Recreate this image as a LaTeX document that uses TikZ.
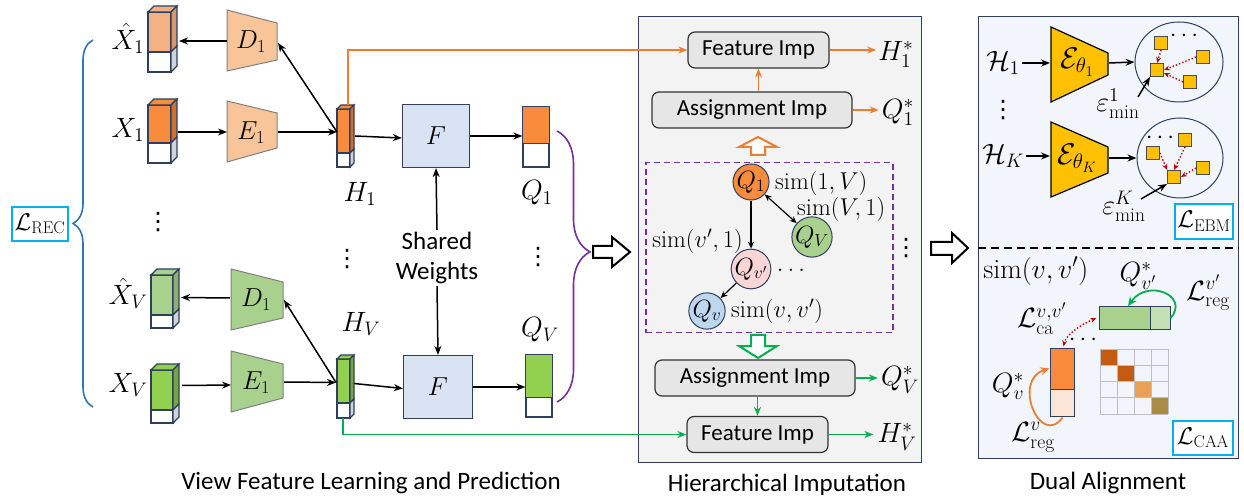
\RequirePackage{fix-cm}
\documentclass[tikz,border=0pt]{standalone}
\usepackage{amsmath}
\usepackage{graphicx}
\usepackage{fontspec}
\newfontfamily\carl{Carlito}
\newfontfamily\djv{DejaVu Sans}
\usetikzlibrary{arrows.meta,calc,decorations.pathreplacing,shapes.geometric}
\definecolor{navy}{HTML}{2F3F5F}
\definecolor{orgA}{HTML}{F98B3C}
\definecolor{orgAs}{HTML}{D2702A}
\definecolor{orgL}{HTML}{F4B183}
\definecolor{orgLs}{HTML}{D8976A}
\definecolor{orgT}{HTML}{F8C49A}
\definecolor{orgP}{HTML}{FBE5D6}
\definecolor{grnA}{HTML}{92D050}
\definecolor{grnAs}{HTML}{74A83C}
\definecolor{grnL}{HTML}{A9D18E}
\definecolor{grnLs}{HTML}{8CB070}
\definecolor{grnP}{HTML}{C5E0B4}
\definecolor{sideg}{HTML}{D0D4DA}
\definecolor{oline}{HTML}{ED7D31}
\definecolor{gline}{HTML}{00B050}
\definecolor{purp}{HTML}{7030A0}
\definecolor{cyanb}{HTML}{00B0F0}
\definecolor{braceb}{HTML}{2E75B6}
\definecolor{gold}{HTML}{FFC000}
\definecolor{fboxc}{HTML}{DAE3F3}
\definecolor{panelg}{HTML}{F3F3F3}
\definecolor{panelb}{HTML}{F2F6FC}
\definecolor{impc}{HTML}{E7E6E6}
\definecolor{redd}{HTML}{C00000}
\definecolor{pinkc}{HTML}{F9D5D5}
\definecolor{bluec}{HTML}{BDD7EE}
\definecolor{trapb}{HTML}{808080}
\definecolor{gridc}{HTML}{BFBFBF}
\definecolor{diagA}{HTML}{C55A11}
\definecolor{diagB}{HTML}{E9A255}
\definecolor{diagC}{HTML}{A98B4A}
\newcommand\msz{\fontsize{22}{26}\selectfont}
\newcommand\msm{\fontsize{21}{25}\selectfont}
\newcommand\mbig{\fontsize{26}{30}\selectfont}
\newcommand\mhuge{\fontsize{30}{34}\selectfont}
\newcommand\tsz{\fontsize{25}{30}\selectfont}
\newcommand\mycube[8]{%
 \node[inner sep=0pt,outer sep=0pt,minimum width=#3pt,minimum height=#4pt,anchor=north west] (#1) at #2 {};
 \path (#1.north west) coordinate (#1a) (#1.north east) coordinate (#1b)
       (#1.south east) coordinate (#1c) (#1.south west) coordinate (#1d);
 \path ($(#1a)+(0,#5)$) coordinate (#1m) ($(#1b)+(0,#5)$) coordinate (#1n);
 \filldraw[fill=#6,draw=navy,line width=1.2pt] (#1a) rectangle (#1n);
 \filldraw[fill=white,draw=navy,line width=1.2pt] (#1m) rectangle (#1c);
 \filldraw[fill=#6,draw=navy,line width=1.2pt] (#1a) -- ++(#8,-#8) -- ++(#3,0) -- (#1b) -- cycle;
 \filldraw[fill=#7,draw=navy,line width=1.2pt] (#1b) -- ++(#8,-#8) -- ++(0,#5) -- (#1n) -- cycle;
 \filldraw[fill=sideg,draw=navy,line width=1.2pt] (#1n) -- ++(#8,-#8) -- ++(0,#4-#5) -- (#1c) -- cycle;
}
\tikzset{
 arr/.style={-{Stealth[length=9pt,width=7pt]}, line width=1.5pt},
 sarr/.style={-{Stealth[length=7pt,width=6pt]}, line width=1.2pt},
 oarr/.style={arr, draw=oline, fill=oline},
 garr/.style={arr, draw=gline, fill=gline},
 rdot/.style={-{Stealth[length=6pt,width=5pt]}, line width=1.4pt, draw=redd, dotted},
 ml/.style={font=\msz, inner sep=0pt, scale=1.27},
 ms/.style={font=\msm, inner sep=0pt, scale=1.16},
 vd/.style={font=\djv\fontsize{24}{28}\selectfont, inner sep=0pt},
 tl/.style={font=\carl\tsz, inner sep=1pt},
 imp/.style={draw=black!80, fill=impc, rounded corners=7pt, line width=1.2pt, minimum height=36pt, inner sep=0pt, font=\carl\fontsize{23}{27}\selectfont},
 fbx/.style={draw=navy, fill=fboxc, line width=1.2pt, minimum width=67pt, minimum height=63pt, inner sep=0pt, font=\mbig},
 trap/.style={draw=trapb, line width=1pt},
 circ/.style={circle, draw=navy, line width=1pt, minimum size=34pt, inner sep=0pt, font=\fontsize{20}{24}\selectfont},
 lbox/.style={draw=cyanb, fill=white, line width=1.8pt, inner sep=0pt, font=\msz},
 sq/.style={draw=black!70, fill=gold, line width=1pt, minimum size=13pt, inner sep=0pt},
 bar/.style={draw=navy, line width=1.2pt, inner sep=0pt},
 hollow/.style={line width=2pt, fill=white},
}
\begin{document}
\begin{tikzpicture}[x=1pt,y=-1pt]
\useasboundingbox (0,0) rectangle (1244,502);

% ---------- panels ----------
\node[draw=navy, fill=panelg, line width=1.3pt, minimum width=283pt, minimum height=446pt, anchor=north west, inner sep=0pt] (panM) at (638,16) {};
\node[draw=navy, fill=panelb, line width=1.3pt, minimum width=260pt, minimum height=442pt, anchor=north west, inner sep=0pt] (panR) at (978,16) {};

% ---------- left: cuboids ----------
\mycube{Xh1}{(148,12)}{23}{60}{40}{orgL}{orgLs}{6}
\mycube{X1}{(148,105)}{23}{58}{38}{orgA}{orgAs}{6}
\mycube{XhV}{(151,275)}{22}{53}{40}{grnL}{grnLs}{6}
\mycube{XV}{(151,370)}{22}{53}{40}{grnA}{grnAs}{6}
\mycube{H1}{(337,109)}{13}{58}{44}{orgA}{orgAs}{4}
\mycube{HV}{(337,359)}{13}{59}{44}{grnA}{grnAs}{4}

\node[ml] (lXh1) at (128,38) {$\hat{X}_1$};
\node[ml] (lX1) at (128,130) {$X_1$};
\node[ml] (lXhV) at (128,293) {$\hat{X}_V$};
\node[ml] (lXV) at (128,385) {$X_V$};
\node[ml] (lH1) at (360,194) {$H_1$};
\node[ml] (lHV) at (361,324) {$H_V$};

% trapezoids
\filldraw[trap, fill=orgT] (227,10) -- (277,23) -- (277,60) -- (227,71) -- cycle;
\filldraw[trap, fill=orgT] (227,101) -- (277,113) -- (277,148) -- (227,162) -- cycle;
\filldraw[trap, fill=grnL] (231,269) -- (283,282) -- (283,318) -- (231,330) -- cycle;
\filldraw[trap, fill=grnL] (231,351) -- (283,364) -- (283,398) -- (231,412) -- cycle;
\node[font=\mbig, inner sep=0pt] (D1) at (251,42) {$D_1$};
\node[font=\mbig, inner sep=0pt] (E1) at (251,133) {$E_1$};
\node[font=\mbig, inner sep=0pt] (D2) at (256,300) {$D_1$};
\node[font=\mbig, inner sep=0pt] (E2) at (256,383) {$E_1$};
\coordinate (D1w) at (227,41);
\coordinate (D1e) at (278,43);
\coordinate (E1w) at (227,132);
\coordinate (E1e) at (278,132);
\coordinate (D2w) at (230,298);
\coordinate (D2e) at (284,300);
\coordinate (E2w) at (231,385);
\coordinate (E2e) at (284,382);
\coordinate (H1in) at ($(H1.west)+(0,-6)$);
\coordinate (HVin) at ($(HV.west)+(-1,-6)$);

\draw[arr] (D1w) -- ($(Xh1.east)+(8,-1)$);
\draw[arr] ($(X1.east)+(7,-2)$) -- (E1w);
\draw[arr] (E1e) -- (H1in);
\draw[arr] (H1in) -- (D1e);
\draw[arr] (D2w) -- ($(XhV.east)+(8,-4)$);
\draw[arr] ($(XV.east)+(9,-11)$) -- (E2w);
\draw[arr] (E2e) -- (HVin);
\draw[arr] (HVin) -- (D2e);

% F boxes and Q
\node[fbx] (F1) at (436,136) {$F$};
\node[fbx, minimum width=69pt] (F2) at (438,387) {$F$};
\node[bar, minimum width=26pt, minimum height=60pt] (Q1) at (536,137) {};
\fill[orgA] (Q1.north west) rectangle ($(Q1.north east)+(0,37)$);
\draw[navy, line width=1.2pt] ($(Q1.north west)+(0,37)$) -- ($(Q1.north east)+(0,37)$);
\draw[navy, line width=1.2pt] (Q1.north west) rectangle (Q1.south east);
\node[bar, minimum width=26pt, minimum height=62pt] (QV) at (539,386) {};
\fill[grnA] (QV.north west) rectangle ($(QV.north east)+(0,43)$);
\draw[navy, line width=1.2pt] ($(QV.north west)+(0,43)$) -- ($(QV.north east)+(0,43)$);
\draw[navy, line width=1.2pt] (QV.north west) rectangle (QV.south east);
\node[ml] (lQ1) at (537,193) {$Q_1$};
\node[ml] (lQV) at (540,330) {$Q_V$};

\draw[arr] ($(H1.east)+(5,-2)$) -- (F1.west |- H1.east);
\draw[arr] (F1.east) -- (F1.east -| Q1.west);
\draw[arr] ($(HV.east)+(4,-5)$) -- (F2.west |- HV.east);
\draw[arr] (F2.east) -- (F2.east -| QV.west);

\node[tl, align=center, inner sep=2pt] (sw) at (437,258) {Shared\\Weights};
\draw[arr] (sw.north) -- (F1.south);
\draw[arr] (sw.south) -- (F2.north);

\node[vd] (dl1) at (158,222) {⋮};
\node[vd] (dl2) at (347,259) {⋮};
\node[vd] (dl3) at (538,257) {⋮};

% braces
\draw[braceb, line width=1.6pt, decorate, decoration={brace, amplitude=20pt}] (93,407) -- (93,40);
\node[lbox, minimum width=56pt, minimum height=34pt] (lrec) at (40,224) {\scalebox{1.1}{$\mathcal{L}_{\mathrm{REC}}$}};
\draw[purp, line width=1.6pt, decorate, decoration={brace, amplitude=33pt, aspect=0.446}] (557,131) -- (557,402);

% hollow arrows between panels
\draw[hollow] (593,246) -- (612,246) -- (612,237) -- (630,252) -- (612,267) -- (612,258) -- (593,258) -- cycle;
\draw[hollow] (931,242) -- (952,242) -- (952,233) -- (968,248) -- (952,263) -- (952,255) -- (931,255) -- cycle;

% ---------- middle panel ----------
\node[imp, minimum width=141pt] (fi1) at (758.5,50) {Feature Imp};
\node[imp, minimum width=200pt] (ai1) at (752,110) {Assignment Imp};
\node[imp, minimum width=200pt] (ai2) at (755,378) {Assignment Imp};
\node[imp, minimum width=141pt] (fi2) at (757.5,434.5) {Feature Imp};
\node[ml] (h1s) at (896,54) {$H_1^{*}$};
\node[ml] (q1s) at (898,112) {$Q_1^{*}$};
\node[ml] (qVs) at (900,380) {$Q_V^{*}$};
\node[ml] (hVs) at (897,437) {$H_V^{*}$};
\draw[oarr] (fi1.east) -- ($(fi1.east -| h1s.west)+(-2,0)$);
\draw[oarr] (ai1.east) -- ($(ai1.east -| q1s.west)+(-3,0)$);
\draw[garr] (ai2.east) -- ($(ai2.east -| qVs.west)+(-3,0)$);
\draw[garr] (fi2.east) -- ($(fi2.east -| hVs.west)+(-4,0)$);
\draw[oarr] (ai1.north -| fi1.south) -- (fi1.south);
\draw[garr] (ai2.south -| fi2.north) -- (fi2.north);
\draw[oline, line width=1.5pt, -{Stealth[length=9pt,width=7pt]}] ($(H1.north east)+(-2,-4)$) |- (fi1.west);
\draw[gline, line width=1.5pt, -{Stealth[length=9pt,width=7pt]}] ($(HV.south west)+(6,0)$) |- (fi2.west);

\draw[oline, hollow] (751,155) -- (751,147) -- (739,147) -- (758,137) -- (777,147) -- (765,147) -- (765,155) -- cycle;
\draw[gline, hollow] (751,335) -- (765,335) -- (765,346) -- (777,346) -- (758,358) -- (739,346) -- (751,346) -- cycle;

\node[draw=purp, dashed, dash pattern=on 6pt off 4pt, line width=1.5pt, minimum width=247pt, minimum height=170pt, anchor=north west, inner sep=0pt] (dbox) at (645,162) {};

\node[circ, fill=orgA] (c1) at (751,182) {\scalebox{1.25}{$Q_1$}};
\node[circ, fill=grnL] (cV) at (812,237) {\scalebox{1.25}{$Q_V$}};
\node[circ, fill=pinkc] (cvp) at (751,269) {\scalebox{1.25}{$Q_{v'}$}};
\node[circ, fill=bluec] (cv) at (707,311) {\scalebox{1.25}{$Q_v$}};
\draw[sarr] (c1) -- (cvp);
\draw[sarr, {Stealth[length=7pt,width=6pt]}-{Stealth[length=7pt,width=6pt]}] (c1) -- (cV);
\draw[sarr] (cvp) -- (cv);
\node[ms, anchor=west] (s1V) at (775,183) {$\mathrm{sim}(1,V)$};
\node[ms, anchor=west] (sV1) at (797,209) {$\mathrm{sim}(V,1)$};
\node[ms, anchor=east] (svp1) at (743,241) {$\mathrm{sim}(v',1)$};
\node[ms, anchor=west] (svv) at (731,311) {$\mathrm{sim}(v,v')$};
\node[ms] (dd) at (793,270) {$\dots$};
\node[vd] (dm) at (906,248) {⋮};

% ---------- right panel ----------
\node[ml] (H1c) at (1003,63) {$\mathcal{H}_1$};
\node[ml] (HKc) at (1003,156) {$\mathcal{H}_K$};
\node[vd] (dr) at (1003,110) {⋮};
\filldraw[fill=gold, draw=black, line width=1.2pt] (1051,27) -- (1108,53) -- (1108,75) -- (1051,102) -- cycle;
\filldraw[fill=gold, draw=black, line width=1.2pt] (1051,122) -- (1108,147) -- (1108,173) -- (1051,197) -- cycle;
\node[font=\mhuge, inner sep=0pt] (enc1) at (1077,62) {$\mathcal{E}_{\theta_1}$};
\node[font=\mhuge, inner sep=0pt] (encK) at (1077,158) {$\mathcal{E}_{\theta_K}$};
\coordinate (enc1w) at (1050,63);
\coordinate (enc1e) at (1109,63);
\coordinate (encKw) at (1050,156);
\coordinate (encKe) at (1109,158);
\node[ellipse, draw=navy, line width=1pt, minimum width=88pt, minimum height=80pt, inner sep=0pt] (el1) at (1179,62) {};
\node[ellipse, draw=navy, line width=1pt, minimum width=86pt, minimum height=80pt, inner sep=0pt] (el2) at (1180,158) {};
\draw[arr] ($(H1c.east)+(2,0)$) -- (enc1w);
\draw[arr] ($(HKc.east)+(2,0)$) -- (encKw);
\draw[arr] (enc1e) -- (el1.west);
\draw[arr] (encKe) -- (el2.west);

\node[sq] (s11) at (1161,43) {};
\node[sq] (s12) at (1203,57) {};
\node[sq] (s1m) at (1157,70) {};
\node[sq] (s13) at (1190,82) {};
\node[ms] (d1) at (1186,36) {$\cdots$};
\draw[rdot] (s11.south) -- (s1m.north);
\draw[rdot] (s12.west) -- (s1m.east);
\draw[rdot] (s13.west) -- ($(s1m.east)+(0,3)$);

\node[sq] (s21) at (1185,140) {};
\node[sq] (s22) at (1153,153) {};
\node[sq] (s23) at (1203,168) {};
\node[sq] (s2m) at (1174,177) {};
\node[ms] (d2) at (1162,138) {$\cdots$};
\draw[rdot] (s21.south) -- (s2m.north);
\draw[rdot] (s22.east) -- (s2m.north west);
\draw[rdot] (s23.west) -- (s2m.east);

\node[ml] (em1) at (1118,104) {$\varepsilon^{1}_{\mathrm{min}}$};
\node[ml] (emK) at (1124,206) {$\varepsilon^{K}_{\mathrm{min}}$};
\draw[arr] (1138,97) -- (s1m.south west);
\draw[arr] (1141,199) -- (s2m.south west);
\node[lbox, minimum width=58pt, minimum height=35pt] (lebm) at (1204,221.5) {\scalebox{1.1}{$\mathcal{L}_{\mathrm{EBM}}$}};

\draw[line width=2pt, dash pattern=on 8pt off 5pt] (panR.west |- 0,248) -- (panR.east |- 0,248);

\node[ml, anchor=west] (svv2) at (983,271) {$\mathrm{sim}(v,v')$};
\node[bar, minimum width=70pt, minimum height=22pt] (gb) at (1135,318) {};
\fill[grnL] (gb.north west) rectangle ($(gb.south west)+(51,0)$);
\fill[grnP] ($(gb.north west)+(51,0)$) rectangle (gb.south east);
\draw[navy, line width=1.2pt] ($(gb.north west)+(51,0)$) -- ($(gb.south west)+(51,0)$);
\draw[navy, line width=1.2pt] (gb.north west) rectangle (gb.south east);
\node[ml] (qvps) at (1138,276) {$Q_{v'}^{*}$};
\node[ml] (lregp) at (1208,293) {$\mathcal{L}^{v'}_{\mathrm{reg}}$};
\draw[gline, line width=1.8pt, -{Stealth[length=9pt,width=8pt]}] (gb.east) .. controls (1190,296) and (1148,278) .. (1128,306);

\node[ml] (lca) at (1042,319) {$\mathcal{L}^{v,v'}_{\mathrm{ca}}$};
\node[bar, minimum width=23pt, minimum height=67pt] (ob) at (1062.5,382.5) {};
\fill[orgA] (ob.north west) rectangle ($(ob.north east)+(0,41)$);
\fill[orgP] ($(ob.north west)+(0,41)$) rectangle (ob.south east);
\draw[navy, line width=1.2pt] ($(ob.north west)+(0,41)$) -- ($(ob.north east)+(0,41)$);
\draw[navy, line width=1.2pt] (ob.north west) rectangle (ob.south east);
\draw[rdot, {Stealth[length=6pt,width=5pt]}-{Stealth[length=6pt,width=5pt]}] ($(gb.west)+(-3,0)$) .. controls (1080,325) and (1066,335) .. ($(ob.north)+(1,-2)$);
\node[ms] (d3) at (1085,340) {$\cdots$};
\node[ml] (qvs) at (1008,386) {$Q_{v}^{*}$};
\node[ml] (lreg) at (1033,437) {$\mathcal{L}^{v}_{\mathrm{reg}}$};
\draw[oline, line width=1.8pt, -{Stealth[length=9pt,width=8pt]}] ($(ob.south)+(0,1)$) .. controls (1040,448) and (1012,380) .. ($(ob.west)+(-1,-14)$);

\foreach \i/\c in {0/diagA,1/diagA,2/diagB,3/diagC}
  \fill[\c] (1100+17*\i,349+16.25*\i) rectangle ++(17,16.25);
\foreach \k in {0,...,4} {
  \draw[gridc, line width=1pt] (1100+17*\k,349) -- (1100+17*\k,414);
  \draw[gridc, line width=1pt] (1100,349+16.25*\k) -- (1168,349+16.25*\k);
}
\node[lbox, minimum width=60pt, minimum height=34pt] (lcaa) at (1203,438) {\scalebox{1.1}{$\mathcal{L}_{\mathrm{CAA}}$}};

% ---------- captions ----------
\node[tl] (cap1) at (371,483) {View Feature Learning and Prediction};
\node[tl] (cap2) at (787,485) {Hierarchical Imputation};
\node[tl] (cap3) at (1108,483) {Dual Alignment};
\end{tikzpicture}
\end{document}
